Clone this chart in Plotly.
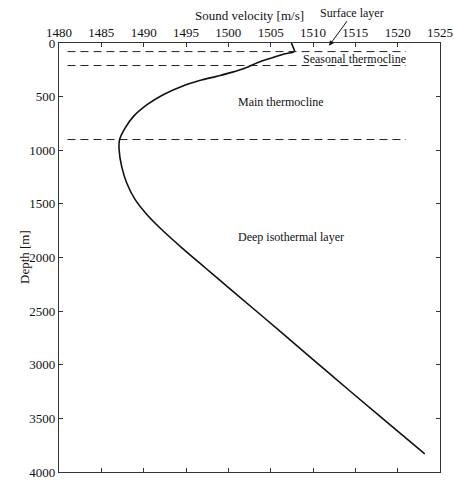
import plotly.graph_objects as go

# Sound velocity profile
depth_m = [0, 40, 78, 100, 140, 181, 233, 274, 311, 350, 398, 482, 575, 684, 793,
           902, 995, 1150, 1305, 1461, 1601, 1741, 1912, 2098, 2300, 2700, 3100, 3500, 3830]
velocity_ms = [1507.45, 1507.65, 1507.8, 1506.7, 1505.1, 1503.5, 1502.0, 1500.4, 1498.6,
               1496.6, 1494.7, 1492.3, 1490.4, 1488.8, 1487.8,
               1487.15, 1487.1, 1487.4, 1488.0, 1489.0, 1490.4, 1492.15, 1494.55, 1497.3,
               1500.3, 1506.3, 1512.2, 1518.2, 1523.2]

# Layer boundaries (dashed lines)
boundary_depths = [80, 210, 900]
boundary_x = [1481, 1521]

x_ticks = [1480, 1485, 1490, 1495, 1500, 1505, 1510, 1515, 1520, 1525]
y_ticks = [0, 500, 1000, 1500, 2000, 2500, 3000, 3500, 4000]

layer_labels = ["Seasonal thermocline", "Main thermocline", "Deep isothermal layer"]

FONT = "Liberation Serif, Times New Roman, serif"

fig = go.Figure()

for d in boundary_depths:
    fig.add_trace(go.Scatter(
        x=boundary_x, y=[d, d], mode="lines",
        line=dict(color="#222", width=1, dash="8px,5px"),
        hoverinfo="skip", showlegend=False))

fig.add_trace(go.Scatter(
    x=velocity_ms, y=depth_m, mode="lines",
    line=dict(color="#111", width=1.6, shape="spline", smoothing=1.0),
    showlegend=False))

axis_common = dict(
    showgrid=False, zeroline=False, showline=True, linecolor="#333", linewidth=1.2,
    ticks="inside", ticklen=4, tickcolor="#333", mirror="ticks", automargin=False,
    tickfont=dict(family=FONT, size=13, color="#111"),
)

fig.update_layout(
    width=454, height=480,
    margin=dict(l=59, r=14, t=43, b=8),
    paper_bgcolor="white", plot_bgcolor="white",
    xaxis=dict(range=[1480, 1525], side="top", tickvals=x_ticks, **axis_common),
    yaxis=dict(range=[4000, 0], tickvals=y_ticks, **axis_common),
    font=dict(family=FONT, color="#111"),
)

ann_font = dict(family=FONT, size=12, color="#111")
fig.add_annotation(text="Sound velocity [m/s]", xref="paper", yref="paper",
                   x=0.5, y=1, yanchor="middle", yshift=28, showarrow=False,
                   font=dict(family=FONT, size=13, color="#111"))
fig.add_annotation(text="Depth [m]", xref="paper", yref="paper",
                   x=0, y=0.5, xshift=-44, textangle=-90, showarrow=False,
                   font=dict(family=FONT, size=13, color="#111"))

fig.add_annotation(text=layer_labels[0], x=1514.96, y=146, showarrow=False, font=ann_font)
fig.add_annotation(text=layer_labels[1], x=1506.2, y=547, showarrow=False, font=ann_font)
fig.add_annotation(text=layer_labels[2], x=1507.35, y=1809, showarrow=False, font=ann_font)

# Surface layer label with arrow
fig.add_annotation(text="Surface layer", xref="paper", yref="paper",
                   x=(386 - 59) / 381, y=1, yanchor="middle", yshift=30,
                   showarrow=False, font=ann_font)
fig.add_annotation(text="", x=1511.9, y=25, ax=19, ay=-26,
                   showarrow=True, arrowhead=2, arrowsize=1, arrowwidth=1,
                   arrowcolor="#111")

fig.write_html(
    "out.html",
    config={"displayModeBar": False},
    post_script="document.body.style.margin='0';document.body.style.overflow='hidden';",
)
